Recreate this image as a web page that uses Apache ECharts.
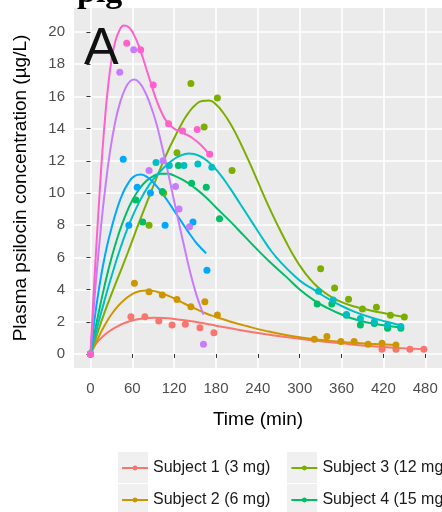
<!DOCTYPE html>
<html>
<head>
<meta charset="utf-8">
<script src="https://cdn.jsdelivr.net/npm/echarts@6/dist/echarts.min.js"></script>
<style>
  html, body { margin: 0; padding: 0; background: #ffffff; }
  #chart { width: 442px; height: 512px; }
</style>
</head>
<body>
<div id="chart"></div>
<script>
// Psilocin plasma concentration-time profiles, one colour per subject.
const subjectNames = ['Subject 1 (3 mg)', 'Subject 2 (6 mg)', 'Subject 3 (12 mg)', 'Subject 4 (15 mg)',
                      'Subject 5', 'Subject 6', 'Subject 7', 'Subject 8'];
const subjectColors = ['#F8766D', '#CD9600', '#7CAE00', '#00BE67', '#00BFC4', '#00A9FF', '#C77CFF', '#FF61CC'];

const timeTicks = [0, 60, 120, 180, 240, 300, 360, 420, 480];
const concTicks = [0, 2, 4, 6, 8, 10, 12, 14, 16, 18, 20];

// measured concentrations [time (min), µg/L]
const s1Obs = [[0,0],[58,2.32],[78,2.32],[98,2.05],[117,1.8],[136,1.84],[157,1.63],[177,1.32],[418,0.3],[438,0.3],[458,0.3],[478,0.3]];
const s2Obs = [[0,0],[63,4.4],[84,3.87],[103,3.66],[124,3.38],[144,2.94],[164,3.25],[182,2.42],[321,0.91],[339,1.08],[359,0.77],[378,0.77],[398,0.6],[418,0.66],[438,0.56]];
const s3Obs = [[0,0],[84,8.0],[105,10.0],[124,12.5],[144,16.8],[163,14.1],[182,15.9],[203,11.4],[330,5.3],[350,4.1],[370,3.4],[390,2.8],[410,2.9],[430,2.4],[450,2.3]];
const s4Obs = [[0,0],[65,9.56],[75,8.2],[103,10.1],[126,11.7],[145,10.6],[166,10.35],[185,8.4],[325,3.1],[346,3.1],[367,2.4],[387,1.8],[407,1.9],[426,1.6],[445,1.6]];
const s5Obs = [[0,0],[94,11.9],[113,11.7],[134,11.7],[154,11.8],[174,11.6],[327,3.9],[348,3.35],[367,2.45],[387,2.2],[407,2.0],[426,1.8],[445,1.7]];
const s6Obs = [[0,0],[47,12.1],[55,8.0],[67,10.35],[86,10.0],[107,8.0],[147,8.2],[167,5.2]];
const s7Obs = [[0,0],[42,17.5],[62,18.9],[84,11.4],[104,12.0],[122,10.4],[127,9.0],[142,7.9],[162,0.6]];
const s8Obs = [[0,0],[52,19.3],[72,18.9],[90,16.7],[112,14.3],[132,13.85],[153,13.95],[171,12.4]];

// fitted model curves [time (min), µg/L]
const s1Fit = [[0,0],[5,0.42],[10,0.75],[20,1.18],[30,1.5],[40,1.75],[50,1.94],[60,2.08],[75,2.2],[90,2.25],[105,2.24],[120,2.18],[140,2.06],[160,1.92],[180,1.76],[210,1.52],[240,1.3],[280,1.05],[320,0.84],[360,0.66],[400,0.5],[440,0.38],[478,0.29]];
const s2Fit = [[0,0],[5,0.45],[10,0.9],[20,1.75],[30,2.45],[40,3.0],[50,3.42],[60,3.72],[70,3.9],[80,3.95],[90,3.92],[100,3.8],[110,3.64],[120,3.45],[135,3.12],[150,2.82],[165,2.53],[180,2.3],[200,2.02],[225,1.72],[250,1.45],[280,1.18],[310,0.98],[340,0.83],[370,0.72],[400,0.64],[438,0.56]];
const s3Fit = [[0,0],[10,1.3],[20,2.55],[30,3.7],[40,4.8],[54,6.35],[70,8.2],[88,10.2],[100,11.5],[110,12.5],[120,13.4],[132,14.4],[140,14.95],[150,15.45],[160,15.72],[170,15.75],[180,15.5],[190,15.0],[200,14.35],[210,13.55],[220,12.65],[230,11.7],[240,10.7],[250,9.7],[260,8.75],[270,7.85],[280,7.0],[290,6.2],[300,5.5],[310,4.9],[320,4.4],[330,4.0],[345,3.55],[360,3.22],[380,2.93],[400,2.72],[425,2.5],[450,2.3]];
const s4Fit = [[0,0],[10,2.2],[20,4.2],[30,5.95],[40,7.4],[50,8.6],[60,9.55],[70,10.25],[80,10.75],[90,11.05],[100,11.2],[110,11.2],[120,11.08],[135,10.75],[150,10.3],[165,9.75],[180,9.1],[200,8.25],[220,7.35],[240,6.45],[260,5.6],[280,4.82],[300,4.0],[320,3.35],[340,2.85],[360,2.45],[385,2.08],[415,1.82],[445,1.65]];
const s5Fit = [[0,0],[10,1.7],[20,3.3],[30,4.8],[42,6.45],[55,8.0],[70,9.45],[85,10.55],[100,11.35],[115,11.95],[128,12.3],[141,12.45],[155,12.33],[170,11.9],[185,11.2],[200,10.3],[215,9.3],[230,8.3],[245,7.3],[260,6.35],[275,5.6],[290,4.95],[305,4.4],[320,4.0],[340,3.45],[360,2.98],[380,2.6],[400,2.3],[425,2.0],[447,1.75]];
const s6Fit = [[0,0],[6,2.2],[12,4.0],[18,5.5],[24,6.75],[30,7.8],[38,9.0],[46,9.95],[54,10.6],[63,11.05],[72,11.15],[81,11.0],[90,10.65],[100,10.15],[110,9.55],[120,8.9],[130,8.25],[140,7.6],[150,7.0],[158,6.6],[166,6.25]];
const s7Fit = [[0,0],[4,2.4],[8,4.6],[12,6.5],[17,8.7],[22,10.6],[28,12.55],[35,14.3],[42,15.55],[50,16.5],[57,16.95],[63,17.05],[70,16.85],[78,16.3],[86,15.45],[94,14.4],[102,13.0],[110,11.5],[118,9.9],[126,8.3],[134,6.75],[142,5.25],[150,3.95],[156,3.15],[162,2.45]];
const s8Fit = [[0,0],[3,2.5],[6,4.85],[9,7.1],[13,9.9],[17,12.5],[21,14.7],[25,16.5],[30,18.2],[35,19.3],[41,20.05],[48,20.4],[55,20.3],[62,19.85],[70,19.05],[78,18.0],[86,16.9],[94,15.85],[102,15.0],[110,14.4],[120,14.0],[132,13.75],[145,13.45],[158,13.0],[171,12.35]];

const observed = [s1Obs, s2Obs, s3Obs, s4Obs, s5Obs, s6Obs, s7Obs, s8Obs];
const fitted = [s1Fit, s2Fit, s3Fit, s4Fit, s5Fit, s6Fit, s7Fit, s8Fit];

const FONT = '"Liberation Sans", Arial, Helvetica, sans-serif';

const lineSeries = subjectNames.map((name, i) => ({
  type: 'line',
  name: name,
  data: fitted[i],
  smooth: 0.5,
  showSymbol: false,
  symbol: 'circle',
  color: subjectColors[i],
  lineStyle: { width: 2, color: subjectColors[i] },
  itemStyle: { color: subjectColors[i] },
  z: 2
}));

const pointSeries = subjectNames.map((name, i) => ({
  type: 'scatter',
  name: name,
  data: observed[i],
  symbol: 'circle',
  symbolSize: 7,
  itemStyle: { color: subjectColors[i], opacity: 1 },
  z: 3
}));

const legendBase = {
  orient: 'horizontal',
  left: 121,
  width: 900,
  padding: 0,
  itemWidth: 26,
  itemHeight: 6,
  itemGap: 20,
  textStyle: { fontFamily: FONT, fontSize: 16, color: '#1a1a1a', lineHeight: 20 },
  selectedMode: false
};

// grey key backgrounds behind the legend symbols
const keyBox = (x, y) => ({
  type: 'rect', left: x, top: y, z: -1,
  shape: { width: 30, height: 31 },
  style: { fill: '#f0f0f0' }
});

const chart = echarts.init(document.getElementById('chart'), null, { renderer: 'canvas' });
chart.setOption({
  animation: false,
  backgroundColor: '#ffffff',
  grid: {
    left: 74, top: 8, width: 373.7, height: 360,
    show: true, backgroundColor: '#ebebeb', borderWidth: 0
  },
  xAxis: {
    type: 'value',
    min: -23.6, max: 504,
    name: 'Time (min)',
    nameLocation: 'middle',
    nameGap: 42,
    nameTextStyle: { fontFamily: FONT, fontSize: 19, color: '#000000' },
    axisLine: { show: false },
    axisTick: { show: true, length: 4, customValues: timeTicks, lineStyle: { color: '#333333', width: 1 } },
    axisLabel: { customValues: timeTicks, margin: 13, fontFamily: FONT, fontSize: 15, color: '#4d4d4d' },
    splitLine: { show: true, lineStyle: { color: '#ffffff', width: 1.6 } }
  },
  yAxis: {
    type: 'value',
    min: -0.87, max: 21.49,
    name: 'Plasma psilocin concentration (µg/L)',
    nameLocation: 'middle',
    nameGap: 44,
    nameTextStyle: { fontFamily: FONT, fontSize: 19, color: '#000000' },
    axisLine: { show: false },
    axisTick: { show: true, length: 4, customValues: concTicks, lineStyle: { color: '#333333', width: 1 } },
    axisLabel: { customValues: concTicks, margin: 9, fontFamily: FONT, fontSize: 15, color: '#4d4d4d' },
    splitLine: { show: true, lineStyle: { color: '#ffffff', width: 1.6 } }
  },
  legend: [
    Object.assign({}, legendBase, { top: 458, data: [subjectNames[0], subjectNames[2], subjectNames[4], subjectNames[6]] }),
    Object.assign({}, legendBase, { top: 490, data: [subjectNames[1], subjectNames[3], subjectNames[5], subjectNames[7]] })
  ],
  graphic: [
    keyBox(118, 452), keyBox(287, 452), keyBox(118, 484), keyBox(287, 484),
    {
      type: 'text', left: 84, top: 24, z: 10,
      style: { text: 'A', fontFamily: FONT, fontSize: 52, fill: '#111111' }
    },
    {
      type: 'text', left: 77, top: -24, z: 10,
      style: { text: 'pig', fontFamily: '"Liberation Serif", "Times New Roman", serif', fontWeight: 'bold', fontSize: 34, fill: '#000000' }
    }
  ],
  series: lineSeries.concat(pointSeries)
});
</script>
</body>
</html>
